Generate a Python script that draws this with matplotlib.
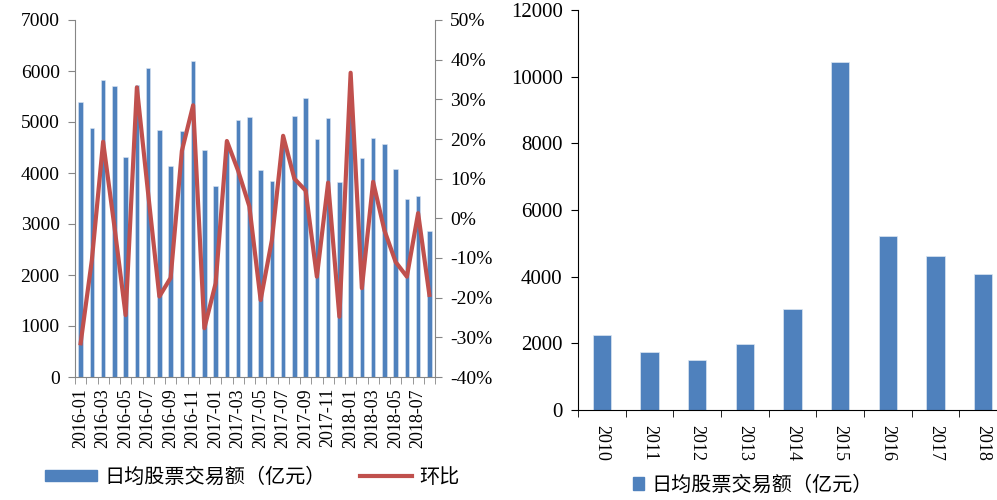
import numpy as np
import matplotlib.pyplot as plt
from matplotlib.patches import Patch
from matplotlib.lines import Line2D
from matplotlib.ticker import FuncFormatter

plt.rcParams['font.family'] = ['Liberation Serif', 'Noto Sans CJK SC']

#########################################################
# data
#########################################################
months = ["2016-01", "2016-02", "2016-03", "2016-04", "2016-05", "2016-06", "2016-07", "2016-08",
          "2016-09", "2016-10", "2016-11", "2016-12", "2017-01", "2017-02", "2017-03", "2017-04",
          "2017-05", "2017-06", "2017-07", "2017-08", "2017-09", "2017-10", "2017-11", "2017-12",
          "2018-01", "2018-02", "2018-03", "2018-04", "2018-05", "2018-06", "2018-07", "2018-08"]
turnover = [5400, 4880, 5820, 5710, 4310, 5730, 6050, 4850,
            4130, 4820, 6200, 4460, 3750, 4480, 5030, 5100,
            4060, 3850, 4650, 5110, 5480, 4660, 5080, 3820,
            5220, 4290, 4690, 4570, 4080, 3490, 3540, 2870]
mom = [-31.5, -10.5, 19.3, -2.0, -24.4, 33.0, 6.3, -19.7,
       -15.0, 17.0, 28.5, -27.7, -16.4, 19.5, 12.0, 3.0,
       -20.6, -5.5, 20.8, 10.0, 7.0, -14.7, 9.0, -24.8,
       36.7, -17.6, 9.2, -3.0, -11.0, -14.7, 1.3, -19.3]

years = ["2010", "2011", "2012", "2013", "2014", "2015", "2016", "2017", "2018"]
yearly = [2250, 1730, 1510, 1970, 3030, 10450, 5220, 4610, 4080]

label_bar = "日均股票交易额（亿元）"
label_line = "环比"

blue = "#4F81BD"
red = "#C0504D"
grey = "#868686"

#########################################################
# figure
#########################################################
W, H = 997, 500
fig = plt.figure(figsize=(W / 100, H / 100), dpi=100)

def box(x0, y0, x1, y1):
    return [x0 / W, 1 - y1 / H, (x1 - x0) / W, (y1 - y0) / H]

# left: monthly bars + mom line
ax = fig.add_axes(box(75, 20, 435, 377))
x = np.arange(len(months))
ax.bar(x, turnover, width=0.42, color=blue, edgecolor="#DCE6F2", linewidth=0.4, zorder=2)
ax.set_xlim(-0.5, len(months) - 0.5)
ax.set_ylim(0, 7000)
ax.set_yticks(np.arange(0, 7001, 1000))
ax.set_xticks(x[::2])
ax.set_xticklabels(months[::2], rotation=90, fontsize=13)
ax.set_xticks(np.arange(-0.5, len(months), 1), minor=True)
ax.tick_params(axis="x", which="major", length=0, pad=8)
ax.tick_params(axis="x", which="minor", length=5, color=grey, direction="out")
ax.tick_params(axis="y", length=5, color=grey, labelsize=14, pad=6)
for s in ["top", "right"]:
    ax.spines[s].set_visible(False)
for s in ["left", "bottom"]:
    ax.spines[s].set_color(grey)

ax2 = ax.twinx()
ax2.plot(x, mom, color=red, lw=3, zorder=3)
ax2.set_ylim(-40, 50)
ax2.set_yticks(np.arange(-40, 51, 10))
ax2.yaxis.set_major_formatter(FuncFormatter(lambda v, p: "%d%%" % v))
ax2.tick_params(axis="y", length=5, color=grey, labelsize=14, pad=6)
for s in ["top", "left", "bottom"]:
    ax2.spines[s].set_visible(False)
ax2.spines["right"].set_color(grey)

h1 = Patch(color=blue)
h2 = Line2D([], [], color=red, lw=3)
fig.legend([h1, h2], [label_bar, label_line], loc="center left",
           bbox_to_anchor=(45 / W, 1 - 478 / H), ncol=2, frameon=False,
           fontsize=14.5, handlelength=2.6, handleheight=0.5,
           handletextpad=0.35, columnspacing=1.7, borderpad=0, borderaxespad=0)

# right: yearly bars
ax3 = fig.add_axes(box(578, 10, 1007, 410))
xy = np.arange(len(years))
ax3.bar(xy, yearly, width=0.39, color=blue, edgecolor="#DCE6F2", linewidth=0.5)
ax3.set_xlim(-0.5, len(years) - 0.5)
ax3.set_ylim(0, 12000)
ax3.set_yticks(np.arange(0, 12001, 2000))
ax3.set_xticks(xy)
ax3.set_xticklabels(years, rotation=270, fontsize=13)
ax3.set_xticks(np.arange(-0.5, len(years), 1), minor=True)
ax3.tick_params(axis="x", which="major", length=0, pad=11)
ax3.tick_params(axis="x", which="minor", length=5, direction="out")
ax3.tick_params(axis="y", length=5, labelsize=15, pad=6)
for s in ["top", "right"]:
    ax3.spines[s].set_visible(False)

fig.legend([Patch(color=blue)], [label_bar], loc="center left",
           bbox_to_anchor=(633 / W, 1 - 486 / H), frameon=False,
           fontsize=14.5, handlelength=0.55, handleheight=0.55,
           handletextpad=0.35, borderpad=0, borderaxespad=0)

fig.savefig("out.png", dpi=100)
